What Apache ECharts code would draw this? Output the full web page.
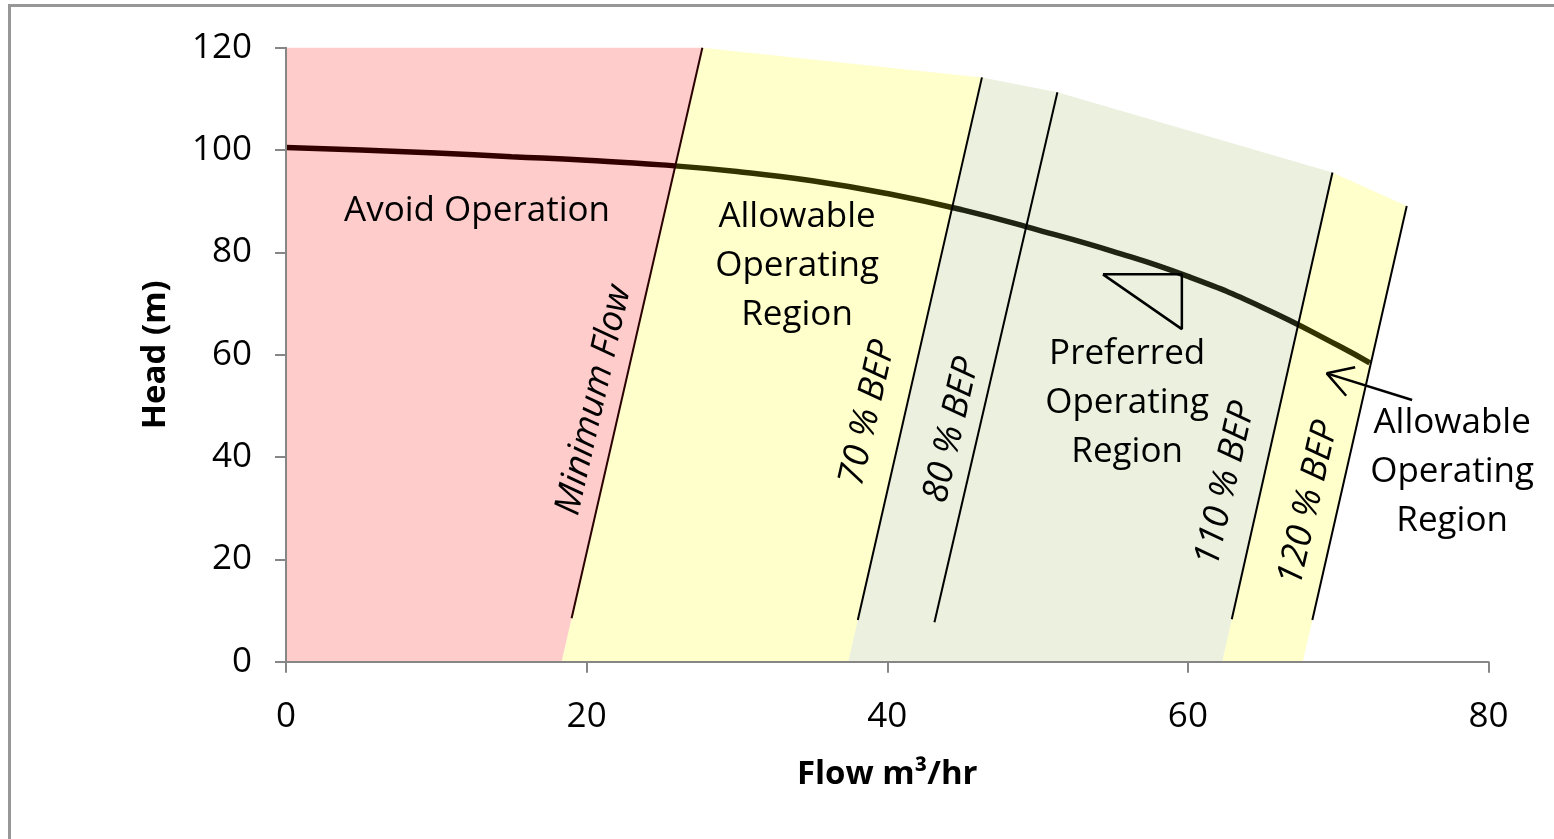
<!DOCTYPE html>
<html><head><meta charset="utf-8">
<script src="https://cdn.jsdelivr.net/npm/echarts@6/dist/echarts.min.js"></script>
<style>html,body{margin:0;padding:0;background:#fff;overflow:hidden}#c{width:1554px;height:839px}</style>
</head><body><div id="c"></div>
<script>
// ---- data ----
const xTicks = [0, 20, 40, 60, 80];
const yTicks = [0, 20, 40, 60, 80, 100, 120];
const pumpFlow = [0, 5, 10, 15, 20, 25, 30, 35, 40, 45, 50, 55, 60, 65, 70, 72.1];
const pumpHead = [100.5, 100.0, 99.4, 98.7, 98.0, 97.1, 95.8, 94.0, 91.5, 88.3, 84.4, 80.2, 75.3, 69.2, 61.8, 58.4];
const boundaryNames = ['Minimum Flow', '70 % BEP', '80 % BEP', '110 % BEP', '120 % BEP'];
const boundaryBottom = [[19.0, 8.5], [38.04, 8.15], [43.14, 7.7], [62.92, 8.3], [68.28, 8.15]];
const boundaryTop = [[27.7, 120], [46.3, 114.2], [51.32, 111.3], [69.62, 95.6], [74.56, 89.05]];
const boundaryLabelAt = [[20.49, 51.1], [38.72, 48.6], [44.31, 45.28], [62.51, 34.73], [68.03, 31.0]];
const regionNames = ['Avoid Operation', 'Allowable\nOperating\nRegion', 'Preferred\nOperating\nRegion', 'Allowable\nOperating\nRegion'];
const regionLabelAt = [[12.71, 88.08], [34.0, 77.3], [55.96, 50.55], [77.58, 37.07]];
const regionBetween = [[-1, 0], [0, 1], [1, 3], [3, 4]]; // which boundaries enclose each region
const bepMarker = [[54.35, 75.7], [59.6, 75.7], [59.6, 65.0], [54.35, 75.7]];
const arrowShaft = [[74.92, 51.14], [69.24, 56.36]];
const arrowHead = [[71.13, 57.53], [69.24, 56.36], [70.53, 51.98]];
const yMax = 120;

// ---- styles ----
const regionFill = ['rgba(255,0,0,0.2)', 'rgba(255,255,0,0.2)', 'rgba(155,187,89,0.2)', 'rgba(255,255,0,0.2)'];
const FONT = '"Open Sans", "Liberation Sans", sans-serif';
const axisGray = '#868686';

function foot(i) {
  const b = boundaryBottom[i], t = boundaryTop[i];
  return b[0] - b[1] * (t[0] - b[0]) / (t[1] - b[1]);
}

const chart = echarts.init(document.getElementById('c'), null, {renderer: 'canvas'});

const series = [];
// pump curve (underneath the translucent regions, as in the original)
series.push({
  type: 'line', z: 1, smooth: 0.5, showSymbol: false, silent: true,
  data: pumpFlow.map((x, i) => [x, pumpHead[i]]),
  lineStyle: {color: '#000', width: 5.5}
});
// regions
series.push({
  type: 'custom', z: 2, silent: true,
  data: regionBetween.map((r, i) => [i, 0]),
  renderItem: function (params, api) {
    const i = api.value(0);
    const [a, b] = regionBetween[i];
    const pts = [];
    if (a < 0) {
      pts.push(api.coord([0, 0]), api.coord([foot(b), 0]), api.coord(boundaryTop[b]), api.coord([0, yMax]));
    } else {
      pts.push(api.coord([foot(a), 0]), api.coord([foot(b), 0]));
      for (let k = b; k >= a; k--) pts.push(api.coord(boundaryTop[k]));
    }
    return {type: 'polygon', shape: {points: pts}, style: {fill: regionFill[i]}};
  }
});
// boundary lines
boundaryNames.forEach((n, i) => {
  series.push({
    type: 'line', z: 3, showSymbol: false, silent: true,
    data: [boundaryBottom[i], boundaryTop[i]],
    lineStyle: {color: i === 0 ? '#2a0000' : '#000', width: 2}
  });
});
// BEP marker triangle
series.push({
  type: 'line', z: 4, showSymbol: false, silent: true, data: bepMarker,
  lineStyle: {color: '#000', width: 2.5}
});
// arrow
series.push({
  type: 'line', z: 4, showSymbol: false, silent: true, data: arrowShaft,
  lineStyle: {color: '#000', width: 2.5}
});
series.push({
  type: 'line', z: 4, showSymbol: false, silent: true, data: arrowHead,
  lineStyle: {color: '#000', width: 2.5}
});
// texts
const angle = 77.1 * Math.PI / 180;
series.push({
  type: 'custom', z: 10, silent: true,
  data: boundaryNames.map((n, i) => [boundaryLabelAt[i][0], boundaryLabelAt[i][1], i]),
  renderItem: function (params, api) {
    const p = api.coord([api.value(0), api.value(1)]);
    const i = api.value(2);
    return {type: 'text', x: p[0], y: p[1], rotation: angle,
      style: {text: boundaryNames[i], fill: '#000', font: 'italic 36px ' + FONT,
        align: 'center', verticalAlign: 'middle', textAlign: 'center', textVerticalAlign: 'middle'}};
  }
});
series.push({
  type: 'custom', z: 10, silent: true,
  data: regionNames.map((n, i) => [regionLabelAt[i][0], regionLabelAt[i][1], i]),
  renderItem: function (params, api) {
    const p = api.coord([api.value(0), api.value(1)]);
    const i = api.value(2);
    return {type: 'text', x: p[0], y: p[1],
      style: {text: regionNames[i], fill: '#000', font: '35px ' + FONT, lineHeight: 49,
        align: 'center', verticalAlign: 'middle', textAlign: 'center', textVerticalAlign: 'middle'}};
  }
});

chart.setOption({
  animation: false,
  backgroundColor: '#fff',
  grid: {left: 286, right: 65.5, top: 47.7, bottom: 177.3, containLabel: false},
  graphic: [{type: 'rect', shape: {x: 9.5, y: 5.5, width: 1700, height: 1000},
    style: {fill: null, stroke: '#979797', lineWidth: 3}, z: -1}],
  xAxis: {
    type: 'value', min: xTicks[0], max: xTicks[xTicks.length - 1], interval: 20, z: 5,
    name: 'Flow m³/hr', nameLocation: 'middle', nameGap: 96,
    nameTextStyle: {fontFamily: FONT, fontSize: 33, fontWeight: 'bold', color: '#000'},
    axisLine: {show: true, lineStyle: {color: axisGray, width: 2}},
    axisTick: {show: true, length: 11, lineStyle: {color: axisGray, width: 2}},
    axisLabel: {fontFamily: FONT, fontSize: 35, color: '#000', margin: 38},
    splitLine: {show: false}
  },
  yAxis: {
    type: 'value', min: yTicks[0], max: yTicks[yTicks.length - 1], interval: 20, z: 5,
    name: 'Head (m)', nameLocation: 'middle', nameGap: 114, nameRotate: 90,
    nameTextStyle: {fontFamily: FONT, fontSize: 33, fontWeight: 'bold', color: '#000'},
    axisLine: {show: true, lineStyle: {color: axisGray, width: 2}},
    axisTick: {show: true, length: 11, lineStyle: {color: axisGray, width: 2}},
    axisLabel: {fontFamily: FONT, fontSize: 35, color: '#000', margin: 34},
    splitLine: {show: false}
  },
  series: series
});
</script></body></html>
